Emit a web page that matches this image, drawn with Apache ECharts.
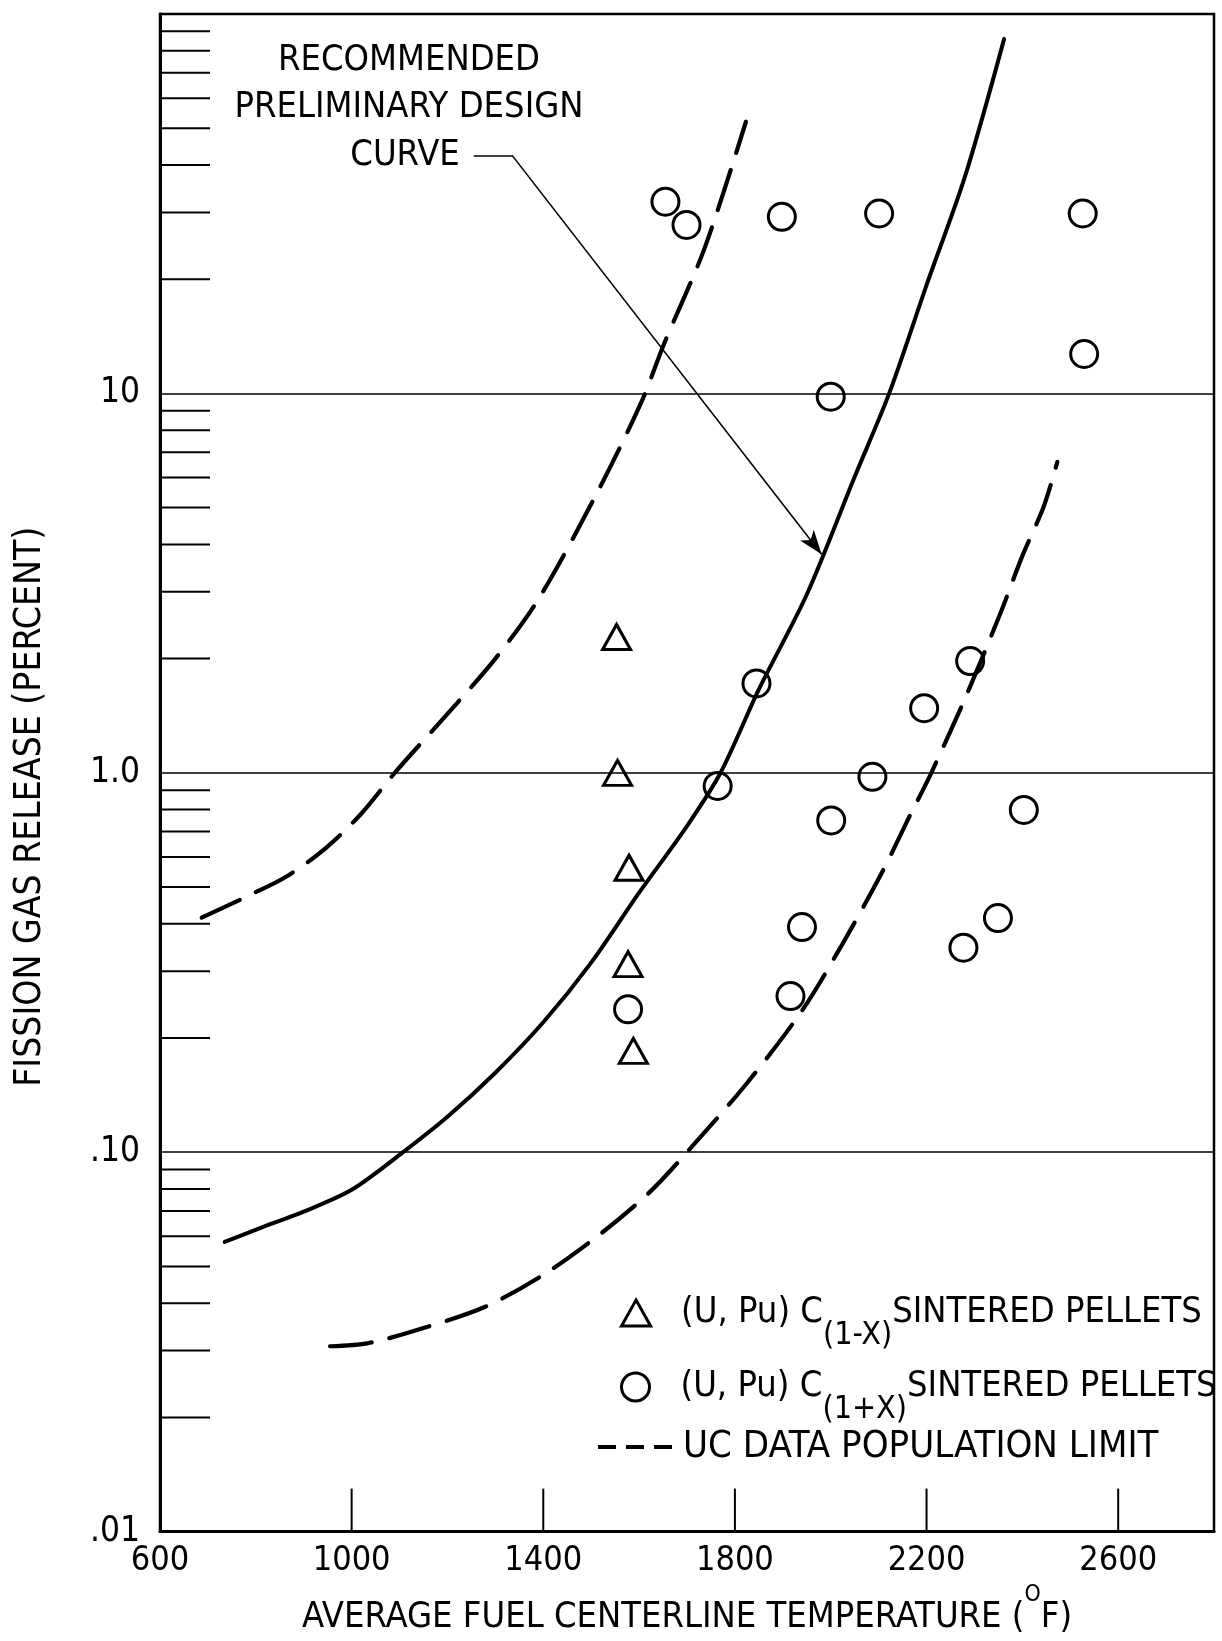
<!DOCTYPE html>
<html>
<head>
<meta charset="utf-8">
<title>Fission gas release vs. fuel centerline temperature</title>
<script src="https://cdn.jsdelivr.net/npm/echarts@6/dist/echarts.min.js"></script>
<style>
  html, body { margin: 0; padding: 0; background: #fff; }
  #chart { width: 1222px; height: 1641px; }
</style>
</head>
<body>
<div id="chart"></div>
<script>
const FONT = '"DejaVu Sans Condensed", "Liberation Sans Narrow", "Liberation Sans", sans-serif';

// (U,Pu)C(1-x) sintered pellets
const hypoTemp    = [1553, 1555, 1579, 1577, 1588];
const hypoRelease = [2.28, 1.0, 0.562, 0.313, 0.185];

// (U,Pu)C(1+x) sintered pellets
const hyperTemp    = [1655, 1699, 1898, 2101, 2526, 2529, 2000, 1845, 1764, 1577,
                      1940, 1916, 2001, 2087, 2195, 2291, 2403, 2277, 2349];
const hyperRelease = [32.0, 27.8, 29.2, 29.8, 29.8, 12.7, 9.8, 1.72, 0.923, 0.238,
                      0.392, 0.258, 0.749, 0.976, 1.48, 1.97, 0.798, 0.346, 0.414];

// Recommended preliminary design curve
const designTemp    = [735, 830, 900, 1000, 1100, 1200, 1300, 1400, 1500, 1600,
                       1700, 1770, 1850, 1950, 2050, 2122, 2200, 2280, 2362];
const designRelease = [0.058, 0.0646, 0.0697, 0.0796, 0.0984, 0.124, 0.162, 0.220, 0.316, 0.483,
                       0.724, 1.0, 1.66, 2.95, 6.03, 10.0, 19.3, 37.2, 86.0];

// UC data population limits (upper and lower bound)
const ucUpperTemp    = [687, 790, 865, 946, 1020, 1090, 1200, 1300, 1390, 1512, 1605, 1652, 1736, 1823];
const ucUpperRelease = [0.415, 0.478, 0.534, 0.633, 0.78, 1.0, 1.43, 2.0, 2.87, 5.46, 9.5, 13.5, 24.0, 52.0];

const ucLowerTemp    = [955, 1035, 1150, 1280, 1400, 1520, 1620, 1700, 1825, 1940,
                        2020, 2105, 2165, 2210, 2285, 2355, 2400, 2445, 2473];
const ucLowerRelease = [0.0308, 0.0314, 0.0344, 0.0392, 0.0475, 0.061, 0.078, 0.10, 0.152, 0.236,
                        0.346, 0.54, 0.77, 1.0, 1.62, 2.65, 3.73, 5.05, 6.6];

// Axis ticks and labels
const xLabelValues = [600, 1000, 1400, 1800, 2200, 2600];
const xTickValues  = [1000, 1400, 1800, 2200, 2600];
const yLabelText   = { '-2': '.01', '-1': '.10', '0': '1.0', '1': '10' };
const yMinorTicks  = [0.02, 0.03, 0.04, 0.05, 0.06, 0.07, 0.08, 0.09,
                      0.2, 0.3, 0.4, 0.5, 0.6, 0.7, 0.8, 0.9,
                      2, 3, 4, 5, 6, 7, 8, 9,
                      20, 30, 40, 50, 60, 70, 80, 90];

// Leader from the "CURVE" label to the design curve
const leaderStart = [1255, 42.4];
const leaderElbow = [1335, 42.4];
const leaderTip   = [1981, 3.77];

const NAME_HYPO  = '(U, Pu) C(1-X) SINTERED PELLETS';
const NAME_HYPER = '(U, Pu) C(1+X) SINTERED PELLETS';
const NAME_UC    = 'UC DATA POPULATION LIMIT';

const zip = (xs, ys) => xs.map((x, i) => [x, ys[i]]);

const chart = echarts.init(document.getElementById('chart'), null, { renderer: 'canvas' });

// One legend box per row so each row can sit at its own height
const legendText = size => ({
  color: '#000', fontFamily: FONT, fontSize: size,
  rich: { sub: { fontFamily: FONT, fontSize: 32, color: '#000', padding: [46, 0, 0, 0] } }
});
const legendFormatter = name => {
  if (name === NAME_HYPO) return '(U, Pu) C{sub|(1-X)}SINTERED PELLETS';
  if (name === NAME_HYPER) return '(U, Pu) C{sub|(1+X)}SINTERED PELLETS';
  return name;
};
const legendRow = (left, top, item, itemHeight, fontSize) => ({
  orient: 'vertical', left: left, top: top, padding: 0,
  itemWidth: 80, itemHeight: itemHeight, selectedMode: false,
  data: [item], textStyle: legendText(fontSize), formatter: legendFormatter
});

const option = {
  backgroundColor: '#fff',
  animation: false,
  textStyle: { fontFamily: FONT, color: '#000' },
  grid: {
    left: 160, top: 14, width: 1054, height: 1523,
    show: true, borderColor: '#000', borderWidth: 2.5, backgroundColor: 'transparent'
  },
  xAxis: {
    type: 'value', min: 600, max: 2800, interval: 200,
    axisLine: { show: true, lineStyle: { color: '#000', width: 3 } },
    axisTick: { show: false },
    splitLine: { show: false },
    axisLabel: {
      color: '#000', fontFamily: FONT, fontSize: 34, margin: 13,
      showMaxLabel: false,
      formatter: v => (xLabelValues.indexOf(v) >= 0 ? String(v) : '')
    },
    name: 'AVERAGE FUEL CENTERLINE TEMPERATURE ({sup|O}F)',
    nameLocation: 'middle', nameGap: 80,
    nameTextStyle: {
      color: '#000', fontFamily: FONT, fontSize: 36, verticalAlign: 'middle',
      rich: { sup: { fontFamily: FONT, fontSize: 23, color: '#000', padding: [0, 0, 46, 0] } }
    }
  },
  yAxis: {
    type: 'log', logBase: 10, min: 0.01, max: 100,
    axisLine: { show: true, lineStyle: { color: '#000', width: 3 } },
    axisTick: { show: false },
    splitLine: { show: true, lineStyle: { color: '#000', width: 1.5 } },
    axisLabel: {
      color: '#000', fontFamily: FONT, fontSize: 35, margin: 20,
      verticalAlign: 'middle', padding: [0, 0, 26, 0], showMaxLabel: false,
      formatter: v => {
        const k = String(Math.round(Math.log10(v)));
        return yLabelText[k] !== undefined ? yLabelText[k] : '';
      }
    },
    name: 'FISSION GAS RELEASE (PERCENT)',
    nameLocation: 'middle', nameGap: 130, nameRotate: 90,
    nameTextStyle: { color: '#000', fontFamily: FONT, fontSize: 37, verticalAlign: 'middle', padding: [0, 68, 0, 0] }
  },
  legend: [
    legendRow(620, 1295, { name: NAME_HYPO, icon: 'path://M14,0L28,25L0,25Z', itemStyle: { borderWidth: 3 } }, 26, 36),
    legendRow(620, 1369, { name: NAME_HYPER, itemStyle: { borderWidth: 3 } }, 28, 36),
    legendRow(596, 1428, { name: NAME_UC,
                           itemStyle: { color: 'rgba(0,0,0,0)', borderColor: 'rgba(0,0,0,0)', borderWidth: 0 },
                           lineStyle: { type: [18, 10], width: 4, cap: 'butt', color: '#000' } }, 30, 38)
  ],
  graphic: [
    { type: 'text', x: 409, y: 61, style: { text: 'RECOMMENDED', font: '36px ' + FONT, fill: '#000', textAlign: 'center', textVerticalAlign: 'middle' } },
    { type: 'text', x: 409, y: 108, style: { text: 'PRELIMINARY DESIGN', font: '36px ' + FONT, fill: '#000', textAlign: 'center', textVerticalAlign: 'middle' } },
    { type: 'text', x: 405, y: 156, style: { text: 'CURVE', font: '36px ' + FONT, fill: '#000', textAlign: 'center', textVerticalAlign: 'middle' } }
  ],
  series: [
    {
      name: 'design', type: 'line', data: zip(designTemp, designRelease),
      symbol: 'none', smooth: 0.3, z: 3,
      lineStyle: { color: '#000', width: 4, cap: 'round' },
      markLine: {
        silent: true, animation: false, symbol: ['none', 'none'],
        label: { show: false },
        lineStyle: { color: '#000', width: 1.6, type: 'solid' },
        emphasis: { disabled: true },
        data: [
          [{ coord: leaderStart }, { coord: leaderElbow }],
          [{ coord: leaderElbow }, { coord: leaderTip, symbol: 'arrow', symbolSize: [13, 24] }]
        ]
      }
    },
    {
      name: NAME_UC, type: 'line', data: zip(ucUpperTemp, ucUpperRelease),
      symbol: 'none', smooth: 0.3, z: 3,
      lineStyle: { color: '#000', width: 4.2, type: [42, 18], cap: 'round' }
    },
    {
      name: NAME_UC, type: 'line', data: zip(ucLowerTemp, ucLowerRelease),
      symbol: 'none', smooth: 0.3, z: 3,
      lineStyle: { color: '#000', width: 4.2, type: [42, 18], cap: 'round' }
    },
    {
      name: NAME_HYPO, type: 'scatter', data: zip(hypoTemp, hypoRelease),
      symbol: 'triangle', symbolSize: [28, 25], z: 5,
      itemStyle: { color: 'rgba(255,255,255,0)', borderColor: '#000', borderWidth: 3, opacity: 1 }
    },
    {
      name: NAME_HYPER, type: 'scatter', data: zip(hyperTemp, hyperRelease),
      symbol: 'circle', symbolSize: 27, z: 5,
      itemStyle: { color: 'rgba(255,255,255,0)', borderColor: '#000', borderWidth: 3, opacity: 1 }
    },
    {
      name: 'xTicks', type: 'custom', silent: true, clip: false, z: 4,
      data: xTickValues.map(v => [v, 0.01]),
      renderItem: (params, api) => {
        const p = api.coord([api.value(0), api.value(1)]);
        return { type: 'line', shape: { x1: p[0], y1: p[1], x2: p[0], y2: p[1] - 43 },
                 style: { stroke: '#000', lineWidth: 2 } };
      }
    },
    {
      name: 'yTicks', type: 'custom', silent: true, clip: false, z: 4,
      data: yMinorTicks.map(v => [600, v]),
      renderItem: (params, api) => {
        const p = api.coord([api.value(0), api.value(1)]);
        return { type: 'line', shape: { x1: p[0], y1: p[1], x2: p[0] + 50, y2: p[1] },
                 style: { stroke: '#000', lineWidth: 2 } };
      }
    }
  ]
};

chart.setOption(option);
</script>
</body>
</html>
